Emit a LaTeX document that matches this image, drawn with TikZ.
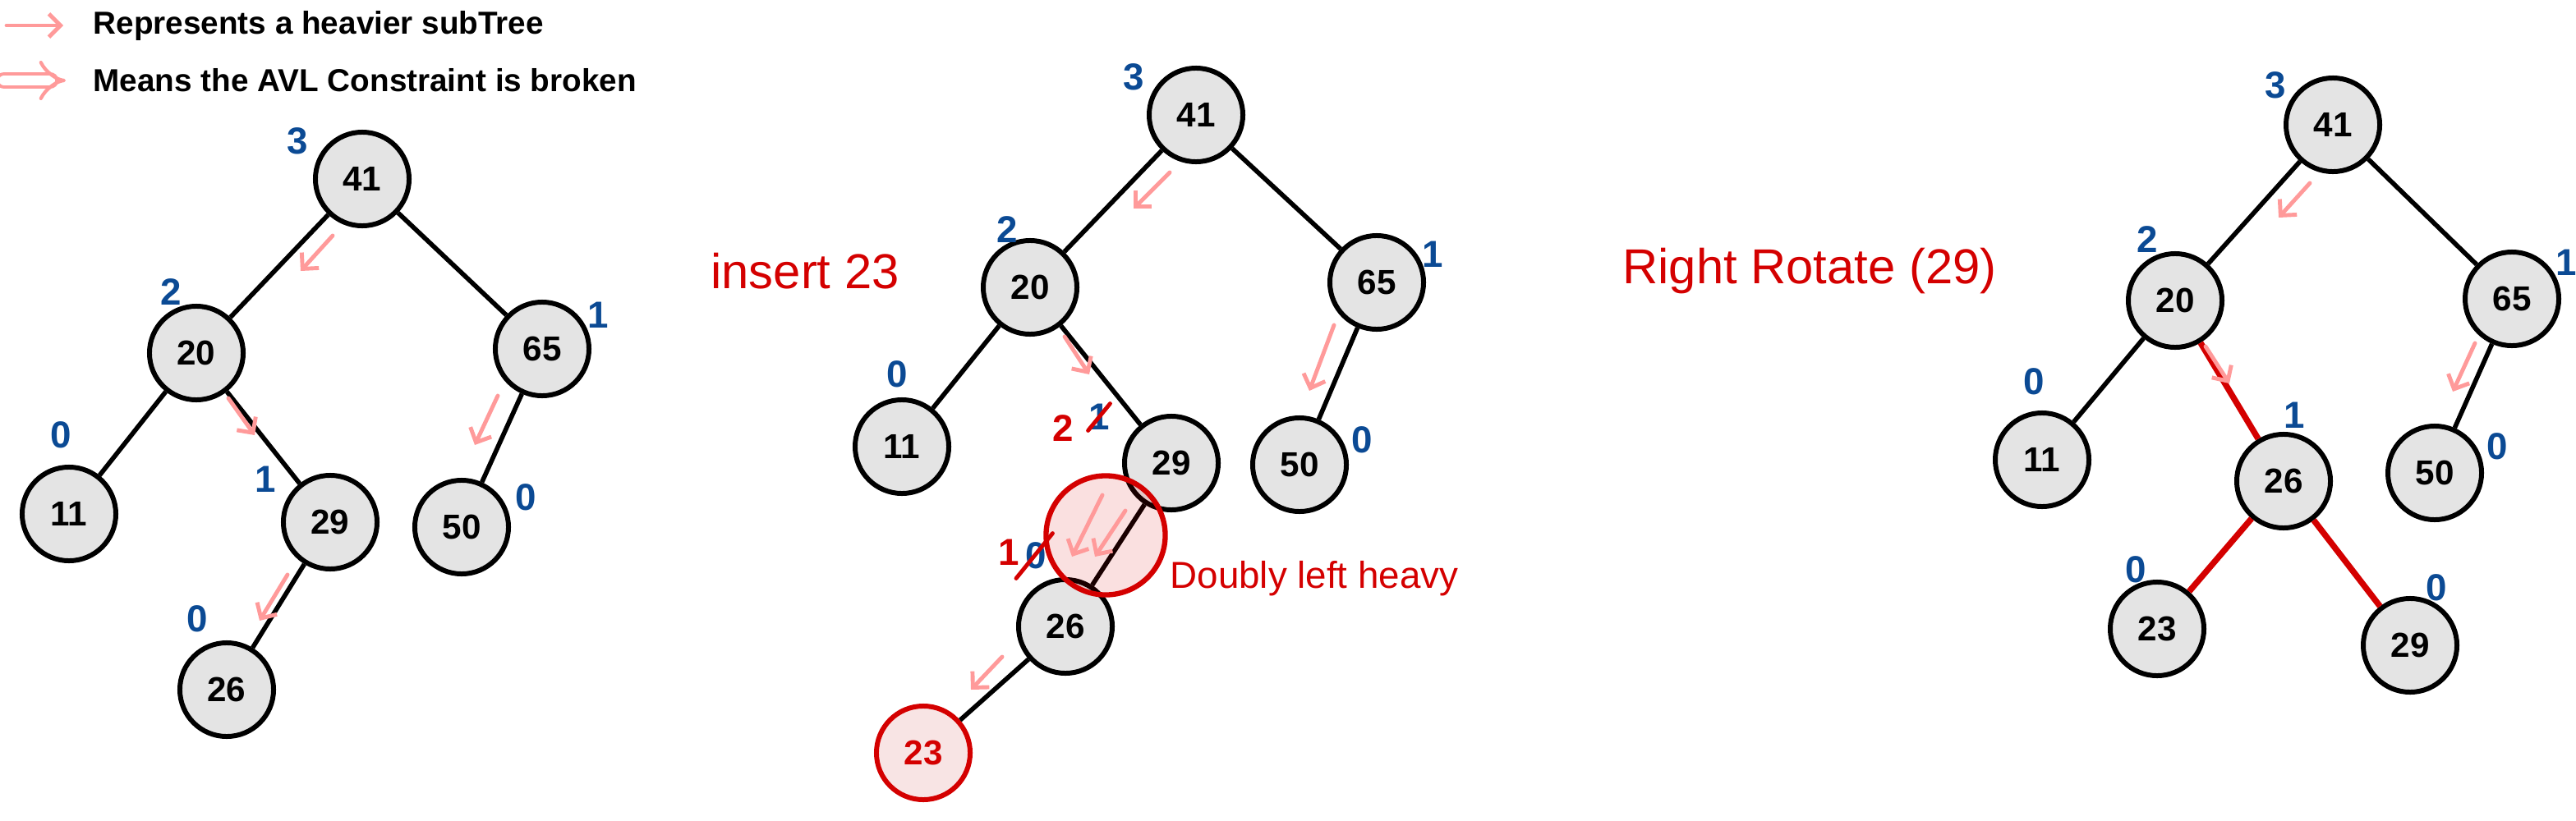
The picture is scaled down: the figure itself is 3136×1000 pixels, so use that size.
\documentclass[tikz,border=0pt]{standalone}
\usepackage{fontspec}
\setmainfont{Liberation Sans}
\usepackage{tikz}
\usetikzlibrary{arrows.meta}
\definecolor{nodegray}{HTML}{E4E4E4}
\definecolor{pinkpen}{HTML}{FF9A9A}
\definecolor{redpen}{HTML}{D40000}
\definecolor{redfill}{HTML}{F8E4E4}
\definecolor{bluepen}{HTML}{0B4A94}
\begin{document}
\begin{tikzpicture}[x=0.01cm,y=-0.01cm,
  avl/.style={circle,draw,line width=1.7pt,fill=nodegray,minimum size=1.14cm,inner sep=0pt,font=\fontsize{12}{12}\selectfont\bfseries},
  newnode/.style={avl,draw=redpen,fill=redfill,text=redpen},
  ht/.style={text=bluepen,inner sep=0pt,font=\fontsize{13}{13}\selectfont\bfseries},
  redht/.style={ht,text=redpen},
  edge/.style={line width=1.6pt},
  rotedge/.style={line width=2.1pt,draw=redpen},
  heavy/.style={draw=pinkpen,line width=1.4pt,line cap=round,-{Straight Barb[length=4pt,width=8pt]}},
  slash/.style={draw=redpen,line width=1.4pt,line cap=round},
  legtext/.style={anchor=west,inner sep=0pt,font=\fontsize{11}{11}\selectfont\bfseries},
  note/.style={text=redpen,inner sep=0pt}]
  \useasboundingbox (0,0) rectangle (3136,1000);
  % legend
  \coordinate (la1) at (8,31); \coordinate (lb1) at (77,31);
  \coordinate (la2) at (5,98); \coordinate (lb2) at (80,98);
  \draw[heavy] (la1) -- (lb1);
  \draw[draw=pinkpen,line width=1.2pt,double=white,double distance=3.5pt,line cap=round,-{Implies}] (la2) -- (lb2);
  \node[legtext] (legheavy) at (113,31) {Represents a heavier subTree};
  \node[legtext] (legbroken) at (113,98) {Means the AVL Constraint is broken};
  % tree before insert
  \node[avl] (L41) at (441,218) {41}; \node[avl] (L20) at (239,430) {20}; \node[avl] (L65) at (660,425) {65};
  \node[avl] (L11) at (84,626) {11}; \node[avl] (L29) at (402,636) {29}; \node[avl] (L50) at (562,642) {50};
  \node[avl] (L26) at (276,840) {26};
  \draw[edge] (L41)--(L20); \draw[edge] (L41)--(L65); \draw[edge] (L20)--(L11); \draw[edge] (L20)--(L29);
  \draw[edge] (L65)--(L50); \draw[edge] (L29)--(L26);
  \node[ht] (hL41) at (362,172) {3}; \node[ht] (hL20) at (208,356) {2}; \node[ht] (hL65) at (728,384) {1};
  \node[ht] (hL11) at (74,530) {0}; \node[ht] (hL29) at (323,584) {1}; \node[ht] (hL50) at (640,606) {0};
  \node[ht] (hL26) at (240,754) {0};
  \draw[heavy] (405,287) -- (366,330); \draw[heavy] (278,485) -- (310,530);
  \draw[heavy] (606,482) -- (578,542); \draw[heavy] (350,700) -- (316,756);
  % insert 23
  \node[note,font=\fontsize{17}{17}\selectfont] (insert) at (980,330) {insert 23};
  \node[avl] (M41) at (1456,140) {41}; \node[avl] (M20) at (1254,350) {20}; \node[avl] (M65) at (1676,344) {65};
  \node[avl] (M11) at (1098,544) {11}; \node[avl] (M29) at (1426,564) {29}; \node[avl] (M50) at (1582,566) {50};
  \node[avl] (M26) at (1297,763) {26}; \node[newnode] (M23) at (1124,917) {23};
  \draw[edge] (M41)--(M20); \draw[edge] (M41)--(M65); \draw[edge] (M20)--(M11); \draw[edge] (M20)--(M29);
  \draw[edge] (M65)--(M50); \draw[edge] (M29)--(M26); \draw[edge] (M26)--(M23);
  \node[ht] (hM41) at (1380,94) {3}; \node[ht] (hM20) at (1226,280) {2}; \node[ht] (hM65) at (1744,310) {1};
  \node[ht] (hM11) at (1092,456) {0}; \node[ht] (hM50) at (1658,536) {0};
  \node[redht] (hM29new) at (1294,522) {2}; \node[ht] (hM29) at (1338,508) {1};
  \node[redht] (hM26new) at (1228,673) {1}; \node[ht] (hM26) at (1261,677) {0};
  \draw[slash] (hM29.south west) -- (hM29.north east);
  \draw[slash] ([xshift=-3pt,yshift=-3pt]hM26.south west) -- ([xshift=2pt,yshift=3pt]hM26.north east);
  \draw[heavy] (1424,210) -- (1380,254); \draw[heavy] (1296,410) -- (1326,456);
  \draw[heavy] (1624,396) -- (1594,476); \draw[heavy] (1220,800) -- (1182,840);
  \node[circle,minimum size=1.45cm,fill=redpen,fill opacity=0.12] (broken) at (1346,652) {};
  \draw[heavy] (1342,603) -- (1305,678); \draw[heavy] (1370,622) -- (1333,678);
  \node[circle,minimum size=1.45cm,draw=redpen,line width=1.8pt] (brokenring) at (broken) {};
  \node[note,anchor=west,font=\fontsize{13}{13}\selectfont] (doubly) at (1424,705) {Doubly left heavy};
  % after right rotate
  \node[note,font=\fontsize{17}{17}\selectfont] (rotate) at (2203,330) {Right Rotate (29)};
  \node[avl] (R41) at (2840,152) {41}; \node[avl] (R20) at (2648,366) {20}; \node[avl] (R65) at (3058,364) {65};
  \node[avl] (R11) at (2486,560) {11}; \node[avl] (R26) at (2780,586) {26}; \node[avl] (R50) at (2964,576) {50};
  \node[avl] (R23) at (2626,766) {23}; \node[avl] (R29) at (2934,786) {29};
  \draw[edge] (R41)--(R20); \draw[edge] (R41)--(R65); \draw[edge] (R20)--(R11); \draw[edge] (R65)--(R50);
  \draw[rotedge] (R20)--(R26); \draw[rotedge] (R26)--(R23); \draw[rotedge] (R26)--(R29);
  \node[ht] (hR41) at (2770,104) {3}; \node[ht] (hR20) at (2614,292) {2}; \node[ht] (hR65) at (3124,320) {1};
  \node[ht] (hR11) at (2476,465) {0}; \node[ht] (hR26) at (2793,506) {1}; \node[ht] (hR50) at (3040,544) {0};
  \node[ht] (hR23) at (2600,694) {0}; \node[ht] (hR29) at (2966,716) {0};
  \draw[heavy] (2812,223) -- (2774,265); \draw[heavy] (2685,422) -- (2714,467);
  \draw[heavy] (3013,418) -- (2986,477);
\end{tikzpicture}
\end{document}
